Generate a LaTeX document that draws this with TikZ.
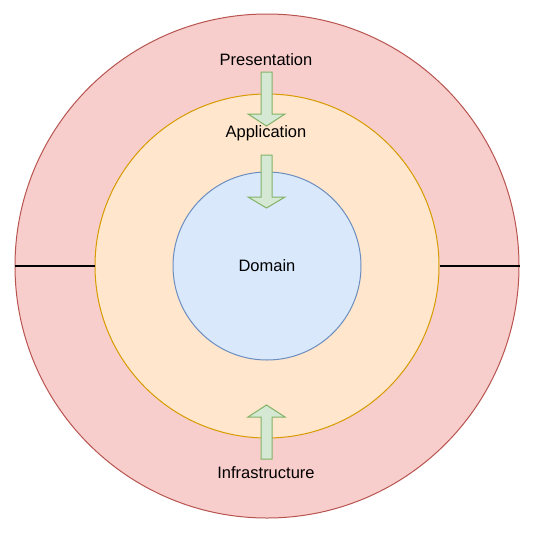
\documentclass[tikz,border=0pt]{standalone}
\usepackage{fontspec}
\setmainfont{Liberation Sans}
\definecolor{redfill}{HTML}{F8CECC}
\definecolor{redline}{HTML}{B85450}
\definecolor{orfill}{HTML}{FFE6CC}
\definecolor{orline}{HTML}{D79B00}
\definecolor{bluefill}{HTML}{DAE8FC}
\definecolor{blueline}{HTML}{6C8EBF}
\definecolor{grfill}{HTML}{D5E8D4}
\definecolor{grline}{HTML}{82B366}
\begin{document}
\begin{tikzpicture}[x=1pt,y=-1pt,
  ring/.style={circle,draw,line width=1pt,inner sep=0pt},
  lbl/.style={font=\fontsize{16.5}{19}\selectfont,inner sep=0pt},
  blockarrow/.style={fill=grfill,draw=grline,line width=1pt,line join=miter}]
\useasboundingbox (0,0) rectangle (535,533);
\node[ring,fill=redfill,draw=redline,minimum size=504pt] (outer) at (267,266) {};
\node[ring,fill=orfill,draw=orline,minimum size=344pt] (middle) at (267,266) {};
\node[ring,fill=bluefill,draw=blueline,minimum size=188pt] (inner) at (267,266) {};
\draw[line width=1.2pt] (outer.west) -- (middle.west);
\draw[line width=1.2pt] (middle.east) -- (outer.east);
% arrows
\draw[blockarrow] (261,72) -- (272,72) -- (272,114) -- (285,114) -- (266.5,126) -- (248,114) -- (261,114) -- cycle;
\draw[blockarrow] (261,155) -- (272,155) -- (272,197) -- (285,197) -- (266.5,208) -- (248,197) -- (261,197) -- cycle;
\draw[blockarrow] (261,459) -- (272,459) -- (272,417) -- (285,417) -- (266.5,405) -- (248,417) -- (261,417) -- cycle;
\node[lbl] (pres) at (266,60) {Presentation};
\node[lbl] (app) at (266,133) {Application};
\node[lbl] (dom) at (267,266) {Domain};
\node[lbl] (infra) at (266,473) {Infrastructure};
\end{tikzpicture}
\end{document}
